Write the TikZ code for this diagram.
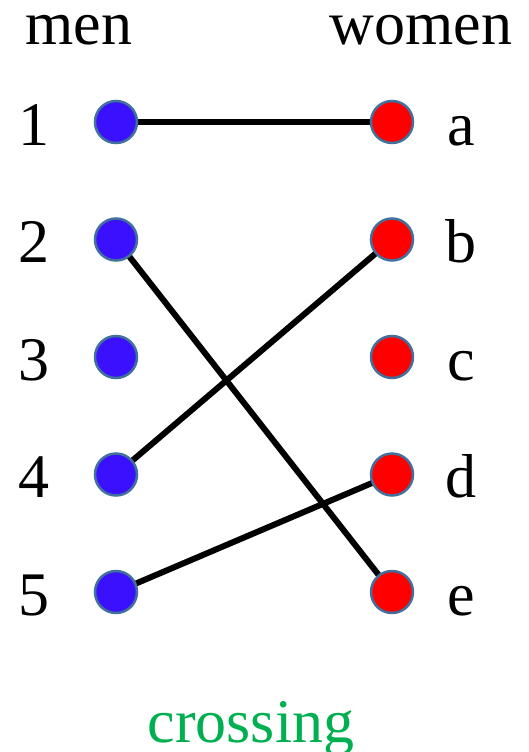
\documentclass[tikz,border=0pt]{standalone}
\usepackage{fontspec}
\setmainfont{Liberation Serif}
\usetikzlibrary{backgrounds}
\definecolor{manblue}{RGB}{58,16,255}
\definecolor{womanred}{RGB}{255,0,0}
\definecolor{dotedge}{RGB}{65,113,156}
\definecolor{crossgreen}{RGB}{0,176,80}
\tikzset{
  mandot/.style={circle,fill=manblue,draw=dotedge,line width=2.5pt,minimum size=42pt,inner sep=0pt},
  womandot/.style={circle,fill=womanred,draw=dotedge,line width=2.5pt,minimum size=42pt,inner sep=0pt},
  lbl/.style={anchor=base,inner sep=0pt,font=\fontsize{62}{70}\selectfont},
  pairing/.style={line width=6pt,black}
}
\begin{document}
\begin{tikzpicture}[x=1pt,y=-1pt]
\useasboundingbox (0,0) rectangle (529,752);
\node[lbl] (men) at (79,45) {men};
\node[lbl] (women) at (421,45) {women};
\foreach \i/\y in {1/122,2/239.5,3/357,4/474.5,5/592}{
  \node[mandot] (m\i) at (116,\y) {};
  \node[lbl] (n\i) at (34,\y+23) {\i};
}
\foreach \l/\y in {a/122,b/239.5,c/357,d/474.5,e/592}{
  \node[womandot] (w\l) at (392,\y) {};
  \node[lbl] (t\l) at (461,\y+23) {\l};
}
\begin{scope}[on background layer]
\draw[pairing] (m1.center) -- (wa.center);
\draw[pairing] (m2.center) -- (we.center);
\draw[pairing] (m4.center) -- (wb.center);
\draw[pairing] (m5.center) -- (wd.center);
\end{scope}
\node[lbl,text=crossgreen] (cap) at (251,742) {crossing};
\end{tikzpicture}
\end{document}
